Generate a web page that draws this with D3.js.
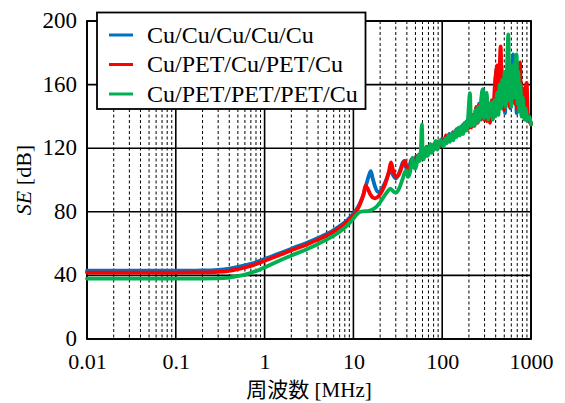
<!DOCTYPE html>
<html>
<head>
<meta charset="utf-8">
<script src="https://cdn.jsdelivr.net/npm/d3@7"></script>
<style>
  html, body { margin: 0; padding: 0; background: #fff; }
  svg { display: block; }
  text { font-family: "Liberation Serif", "Noto Sans CJK JP", serif; fill: #000; }
</style>
</head>
<body>
<svg id="chart" width="565" height="403"></svg>
<script>
// Shielding effectiveness vs. frequency for three five-layer stacks.
const seriesNames = ["Cu/Cu/Cu/Cu/Cu", "Cu/PET/Cu/PET/Cu", "Cu/PET/PET/PET/Cu"];
const seriesColors = ["#0070C0", "#FF0000", "#00B050"];

// [frequency MHz, SE dB]
const seCuCu = [
  [0.01,43],[0.05,43],[0.1,43],[0.2,43.1],[0.3,43.5],[0.4,44.3],[0.5,45.3],[0.6,46.3],[0.7,47.3],[0.85,48.8],
  [1,50.3],[1.5,54],[2,56.8],[3,60.5],[4,63.5],[5,66],[6,68.5],[7,71],[8,73.5],[9,76],[10,79],[11,82],[12,86],
  [13,91],[14,97.5],[15,103],[15.7,105.5],[16.5,101],[17.5,96],[18.5,93],[19.5,92.5],[21,94.5],[23,99],[25,104],
  [26.5,106],[28,103],[30,101],[32,103],[34,107],[36,111],[37.5,112],[39,108],[41,106],[43,109],[45,113],[47,110],
  [49,111],[51,115],[53,112],[55,113],[57,117],[60,114],[63,116],[66,120],[69,117],[72,119],[75,122],[79,119],
  [83,121],[87,124],[91,121],[95,123],[100,126],[105,124],[110,127],[115,125],[120,129],[126,126],[132,130],
  [138,128],[145,132],[150,129],[158,133],[165,130],[172,135],[180,132],[188,137],[195,133],[203,138],[210,134],
  [220,140],[230,135],[240,145],[250,137],[260,148],[270,139],[280,152],[290,157],[300,140],[310,150],[320,138],
  [335,146],[350,137],[365,150],[380,140],[395,160],[410,170],[420,145],[435,165],[450,150],[465,172],[480,145],
  [495,160],[510,142],[525,165],[545,150],[565,170],[585,145],[605,165],[630,179],[650,150],[670,165],[690,142],
  [710,168],[730,145],[760,160],[790,140],[820,150],[860,138],[900,142],[950,137],[1000,136]
];

const seCuPetCu = [
  [0.01,41.8],[0.1,41.8],[0.2,41.9],[0.3,42.2],[0.4,42.9],[0.5,43.9],[0.6,45],[0.7,46],[0.85,47.6],[1,49.2],
  [1.5,53],[2,55.8],[3,59.5],[4,62.5],[5,65],[6,67.5],[7,70],[8,72.5],[9,75.2],[10,78],[11,81],[12,85.5],[13,91],
  [13.7,96.5],[14.5,94.5],[15.5,91],[16.5,89],[17.5,88.5],[19,89.5],[21,93],[23,98],[25,105],[26.5,111],[28,106],
  [30,102],[32,103],[34,106],[36,110],[38,112],[40,108],[42,106],[44,109],[46,113],[48,110],[50,112],[52,115],
  [54,112],[56,114],[58,117],[61,114],[64,118],[67,121],[70,117],[73,119],[76,122],[80,119],[84,121],[88,124],
  [92,121],[96,123],[100,125],[105,123],[110,128],[115,124],[120,128],[126,125],[132,130],[138,127],[145,131],
  [150,128],[158,133],[165,129],[172,134],[180,131],[188,136],[195,132],[203,137],[212,133],[222,141],[232,134],
  [242,146],[252,136],[262,147],[272,138],[285,150],[295,138],[305,152],[318,137],[330,148],[345,136],[360,150],
  [375,139],[390,158],[405,168],[414,172],[425,150],[440,166],[456,184],[468,150],[482,162],[498,144],[515,166],
  [535,148],[555,170],[575,146],[595,168],[615,150],[640,172],[660,148],[680,165],[700,145],[720,170],[751,174],
  [775,148],[800,158],[830,140],[860,155],[894,161],[920,142],[960,138],[1000,135]
];

const seCuPetPetCu = [
  [0.01,38],[0.1,38],[0.2,38],[0.3,38.1],[0.4,38.6],[0.5,39.5],[0.6,40.5],[0.7,41.6],[0.85,43.3],[1,45],
  [1.5,49.5],[2,52.5],[3,56.5],[4,59.8],[5,62.5],[6,65],[7,67.5],[8,70],[9,72.8],[10,75.8],[11,78.5],[12,80],
  [13,80.3],[14.5,80.5],[16,81.2],[18,83],[20,86],[22,89.5],[24,92.5],[26,94.5],[28,93],[30,92],[32,93.5],[34,97],
  [36,101],[38,105],[39.5,106],[41,102],[43,104],[45,110],[46.5,114],[48,108],[50,107],[52,111],[54,116],[56,112],
  [57.5,119],[59,135],[60.5,116],[62,113],[64,117],[66,120.5],[68,115],[70,116],[72,120],[74,122.7],[76,117],
  [79,119],[82,123],[85,124.6],[88,119],[91,121],[95,125],[100,123],[104,121],[108,126],[112,123],[117,128],
  [122,124],[128,129],[134,125],[140,131],[146,127],[152,133],[158,128],[165,134],[172,129],[180,136],[188,131],
  [196,140],[205,154.7],[212,134],[220,140],[228,134],[237,144],[246,136],[255,146],[265,138],[276,152],[286,157],
  [296,139],[306,151],[317,155],[328,138],[340,145],[360,148.6],[372,138],[385,150],[400,140],[415,155],[430,141],
  [445,160],[460,145],[475,163],[490,148],[505,168],[520,146],[540,175],[556,191.5],[570,150],[585,170],[600,146],
  [620,172],[640,152],[660,170],[689,179],[705,148],[720,168],[740,143],[760,160],[785,140],[810,152],[840,138],
  [870,145],[910,138],[950,140],[1000,135]
];

const xTickValues = [0.01, 0.1, 1, 10, 100, 1000];
const xTickLabels = ["0.01", "0.1", "1", "10", "100", "1000"];
const yTickValues = [0, 40, 80, 120, 160, 200];
const yTickLabels = ["0", "40", "80", "120", "160", "200"];

const svg = d3.select("#chart");
const plot = { left: 87, right: 531, top: 21, bottom: 339 };

const x = d3.scaleLog().domain([0.01, 1000]).range([plot.left, plot.right]);
const y = d3.scaleLinear().domain([0, 200]).range([plot.bottom, plot.top]);

// minor vertical grid (2..9 within each decade), dashed
const minorF = [];
for (let e = -2; e < 3; e++) {
  for (let k = 2; k <= 9; k++) minorF.push(k * Math.pow(10, e));
}
svg.append("g").selectAll("line").data(minorF).join("line")
  .attr("x1", d => x(d)).attr("x2", d => x(d))
  .attr("y1", plot.top).attr("y2", plot.bottom)
  .attr("stroke", "#000").attr("stroke-width", 1)
  .attr("stroke-dasharray", "3,2.5");

// major grid
svg.append("g").selectAll("line").data(xTickValues).join("line")
  .attr("x1", d => x(d)).attr("x2", d => x(d))
  .attr("y1", plot.top).attr("y2", plot.bottom)
  .attr("stroke", "#000").attr("stroke-width", 1.6);
svg.append("g").selectAll("line").data(yTickValues).join("line")
  .attr("x1", plot.left).attr("x2", plot.right)
  .attr("y1", d => y(d)).attr("y2", d => y(d))
  .attr("stroke", "#000").attr("stroke-width", 1.6);

// frame
svg.append("rect")
  .attr("x", plot.left).attr("y", plot.top)
  .attr("width", plot.right - plot.left).attr("height", plot.bottom - plot.top)
  .attr("fill", "none").attr("stroke", "#000").attr("stroke-width", 1.8);

// curves
const line = d3.line().x(d => x(d[0])).y(d => y(d[1])).curve(d3.curveMonotoneX);
const allSeries = [seCuCu, seCuPetCu, seCuPetPetCu];
svg.append("g").selectAll("path").data(allSeries).join("path")
  .attr("d", line)
  .attr("fill", "none")
  .attr("stroke", (d, i) => seriesColors[i])
  .attr("stroke-width", 3.8)
  .attr("stroke-linejoin", "round")
  .attr("stroke-linecap", "round");

// axes
const xAxis = d3.axisBottom(x).tickValues(xTickValues)
  .tickFormat((d, i) => xTickLabels[i]).tickSize(0).tickPadding(0);
const gx = svg.append("g").attr("transform", `translate(0,${plot.bottom})`).call(xAxis);
gx.select(".domain").remove();
gx.attr("font-family", null);
gx.selectAll("text").attr("font-size", 22).attr("dy", null).attr("y", 30);

const yAxis = d3.axisLeft(y).tickValues(yTickValues)
  .tickFormat((d, i) => yTickLabels[i]).tickSize(0).tickPadding(10);
const gy = svg.append("g").attr("transform", `translate(${plot.left},0)`).call(yAxis);
gy.select(".domain").remove();
gy.attr("font-family", null);
gy.selectAll("text").attr("font-size", 23).attr("dy", "0.28em");

// axis titles
svg.append("text")
  .attr("x", (plot.left + plot.right) / 2).attr("y", 397)
  .attr("text-anchor", "middle").attr("font-size", 21)
  .text("周波数 [MHz]");

const yt = svg.append("text")
  .attr("transform", "translate(31,180) rotate(-90)")
  .attr("text-anchor", "middle").attr("font-size", 22);
yt.append("tspan").attr("font-style", "italic").text("SE");
yt.append("tspan").text(" [dB]");

// legend
const lg = svg.append("g");
lg.append("rect").attr("x", 97).attr("y", 12.5).attr("width", 268.5).attr("height", 96.5)
  .attr("fill", "#fff").attr("stroke", "#000").attr("stroke-width", 1.8);
const rows = lg.selectAll("g.row").data(seriesNames).join("g").attr("class", "row")
  .attr("transform", (d, i) => `translate(0,${35 + i * 29.5})`);
rows.append("line").attr("x1", 109).attr("x2", 133).attr("y1", 0).attr("y2", 0)
  .attr("stroke", (d, i) => seriesColors[i]).attr("stroke-width", 3);
rows.append("text").attr("x", 147).attr("y", 0).attr("dy", "0.33em")
  .attr("font-size", 24).text(d => d);
</script>
</body>
</html>
